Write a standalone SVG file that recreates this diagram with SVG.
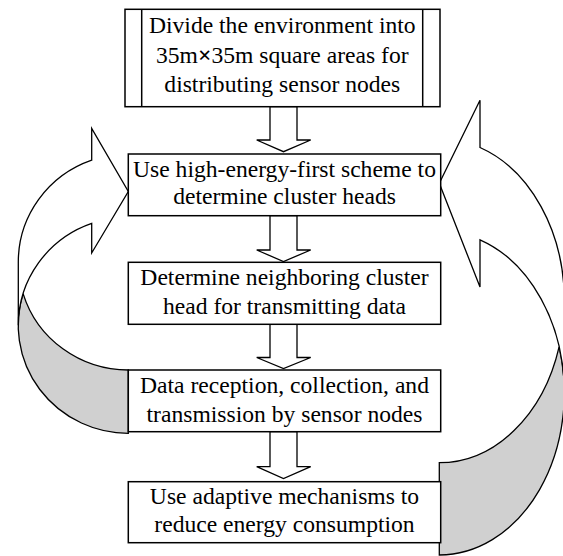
<svg xmlns="http://www.w3.org/2000/svg" width="563" height="556" viewBox="0 0 563 556">
<style>
.box{fill:#fff;stroke:#000;stroke-width:1.5}
.arr{fill:#fff;stroke:#000;stroke-width:1.3;stroke-linejoin:miter}
.curve{fill:#fff;stroke:#000;stroke-width:1.3;stroke-linejoin:miter}
.dark{fill:#d0d0d0;stroke:#000;stroke-width:1.3}
text{font-family:"Liberation Serif","Times New Roman",serif;font-size:23.6px;fill:#000;text-anchor:middle}
</style>
<rect width="563" height="556" fill="#fff"/>
<g id="connectors">
  <path class="dark" d="M128.3 370 A110 108 0 0 1 23.1 293.6 A110 108 0 0 0 128.3 433.3 Z"/>
  <path class="curve" d="M18.3 325.3 A110 108 0 0 1 91.7 223.4 L91.7 253 L128.3 191.5 L91.7 128.5 L91.7 160.2 A110 108 0 0 0 18.3 262 Z"/>
  <path class="dark" d="M439.3 462.7 A125 162 0 0 0 559.1 346.9 A125 162 0 0 1 439.3 555 Z"/>
  <path class="curve" d="M564.3 393 A125 162 0 0 0 480 239.8 L480 287 L439.3 183.3 L480 100.3 L480 147.5 A125 162 0 0 1 564.3 300.7 Z"/>
  <path class="arr" d="M270 106.7 L270 140 L256.7 140 L283.5 151.7 L310.7 140 L297 140 L297 106.7 Z"/>
  <path class="arr" d="M270 215.7 L270 250 L256.7 250 L283.5 261.5 L310.7 250 L297 250 L297 215.7 Z"/>
  <path class="arr" d="M270 324.3 L270 357.5 L256.7 357.5 L283.5 368.5 L310.7 357.5 L297 357.5 L297 324.3 Z"/>
  <path class="arr" d="M270 431.7 L270 466.7 L256.7 466.7 L283.5 478.5 L310.7 466.7 L297 466.7 L297 431.7 Z"/>
</g>
<g id="node1">
  <rect class="box" x="125" y="9.3" width="315" height="97.4"/>
  <line x1="141.7" y1="9.3" x2="141.7" y2="106.7" stroke="#000" stroke-width="1.5"/>
  <line x1="422.7" y1="9.3" x2="422.7" y2="106.7" stroke="#000" stroke-width="1.5"/>
  <text x="282.3" y="33.3">Divide the environment into</text>
  <text x="282.3" y="62.6">35m<tspan font-weight="bold">×</tspan>35m square areas for</text>
  <text x="282.3" y="91.7">distributing sensor nodes</text>
</g>
<g id="node2">
  <rect class="box" x="128.3" y="154" width="312.4" height="61.7"/>
  <text x="284.5" y="177">Use high-energy-first scheme to</text>
  <text x="284.5" y="203.5">determine cluster heads</text>
</g>
<g id="node3">
  <rect class="box" x="128.3" y="262.3" width="312.4" height="62"/>
  <text x="284.5" y="285.3">Determine neighboring cluster</text>
  <text x="284.5" y="313.5">head for transmitting data</text>
</g>
<g id="node4">
  <rect class="box" x="128.3" y="370" width="312.4" height="61.7"/>
  <text x="284.5" y="392.8">Data reception, collection, and</text>
  <text x="284.5" y="421.5">transmission by sensor nodes</text>
</g>
<g id="node5">
  <rect class="box" x="128.3" y="481.7" width="312.4" height="61"/>
  <text x="284.5" y="503.5">Use adaptive mechanisms to</text>
  <text x="284.5" y="531.7">reduce energy consumption</text>
</g>
</svg>
